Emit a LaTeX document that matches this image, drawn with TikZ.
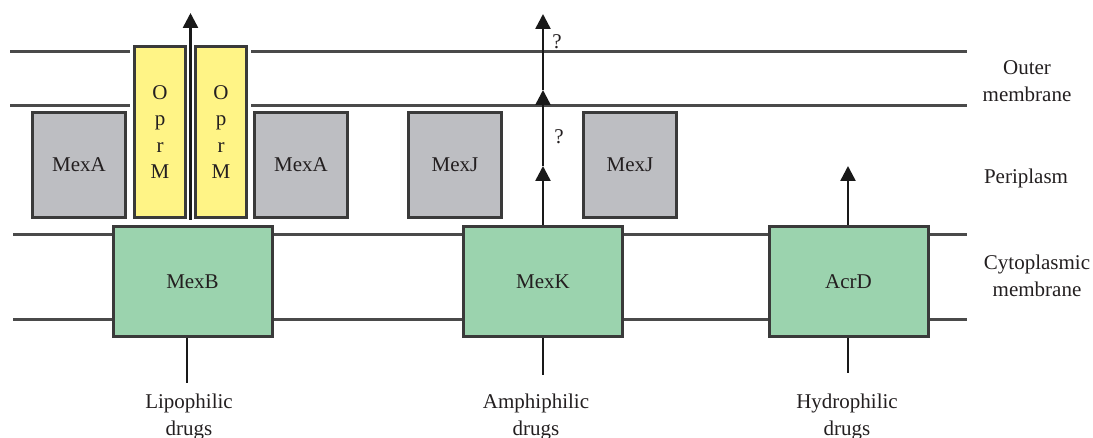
\documentclass[tikz,border=0pt]{standalone}
\usepackage{fontspec}
\setmainfont{Liberation Serif}
\newfontfamily\tnr{Liberation Serif}
\usetikzlibrary{arrows.meta}
\definecolor{linegray}{HTML}{4A4A4A}
\definecolor{boxedge}{HTML}{3A3A3A}
\definecolor{mexgray}{HTML}{BDBEC2}
\definecolor{oprmyellow}{HTML}{FFF486}
\definecolor{mexgreen}{HTML}{9BD3AE}
\definecolor{txt}{HTML}{231F20}
\begin{document}
\begin{tikzpicture}[x=1pt,y=-1pt,
  every node/.style={font=\tnr\fontsize{21}{26.5}\selectfont, text=txt},
  membrane/.style={draw=linegray, line width=3pt},
  protbox/.style={draw=boxedge, line width=3pt, inner sep=0pt, align=center},
  graybox/.style={protbox, fill=mexgray, minimum width=93pt, minimum height=105pt},
  yellowbox/.style={protbox, fill=oprmyellow, minimum width=51pt, minimum height=171pt},
  greenbox/.style={protbox, fill=mexgreen, minimum width=159pt, minimum height=110pt},
  flow/.style={draw=black!90, line width=2.5pt, -{Triangle[width=15pt,length=15pt]}},
  feed/.style={draw=black!90, line width=2.5pt},
  lbl/.style={align=center, inner sep=0pt}
]
\useasboundingbox (0,0) rectangle (1093,438);

% membranes
\draw[membrane] (10,52) -- (130,52);
\draw[membrane] (251,52) -- (967,52);
\draw[membrane] (10,106) -- (130,106);
\draw[membrane] (251,106) -- (967,106);
\draw[membrane] (13,235) -- (967,235);
\draw[membrane] (13,320) -- (967,320);

% boxes
\node[graybox] (mexa1) at (79,165) {MexA};
\node[graybox] (mexa2) at (301,165) {MexA};
\node[yellowbox] (oprm1) at (160,132) {O\\p\\r\\M};
\node[yellowbox] (oprm2) at (221,132) {O\\p\\r\\M};
\node[graybox] (mexj1) at (455,165) {MexJ};
\node[graybox] (mexj2) at (630,165) {MexJ};
\node[greenbox] (mexb) at (192.5,281.5) {MexB};
\node[greenbox] (mexk) at (543,281.5) {MexK};
\node[greenbox] (acrd) at (848.5,281.5) {AcrD};

% coordinates
\coordinate (lipo) at (187,383);
\coordinate (amph) at (543,375);
\coordinate (hydro) at (848,373);
\coordinate (oprmtop) at (190.5,13);
\coordinate (oprmbot) at (190.5,220);
\coordinate (k1) at (543,166);
\coordinate (k2) at (543,90);
\coordinate (k3) at (543,14);
\coordinate (a1) at (848,166);

% arrows
\draw[feed] (lipo) -- (lipo |- mexb.south);
\draw[feed] (amph) -- (amph |- mexk.south);
\draw[feed] (hydro) -- (hydro |- acrd.south);
\draw[flow] (oprmbot) -- (oprmtop);
\draw[flow] (mexk.north) -- (k1);
\draw[flow] (k1) -- (k2);
\draw[flow] (k2) -- (k3);
\draw[flow] (a1 |- acrd.north) -- (a1);

% question marks
\node[lbl] (q1) at (557,42) {?};
\node[lbl] (q2) at (559,137) {?};

% drug labels
\node[lbl] (lipol) at (189,417) {Lipophilic\\drugs};
\node[lbl] (amphl) at (536,417) {Amphiphilic\\drugs};
\node[lbl] (hydrol) at (847,417) {Hydrophilic\\drugs};

% compartment labels
\node[lbl] (outer) at (1027,81) {Outer\\membrane};
\node[lbl] (peri) at (1026,178) {Periplasm};
\node[lbl] (cyto) at (1037,276) {Cytoplasmic\\membrane};
\end{tikzpicture}
\end{document}
